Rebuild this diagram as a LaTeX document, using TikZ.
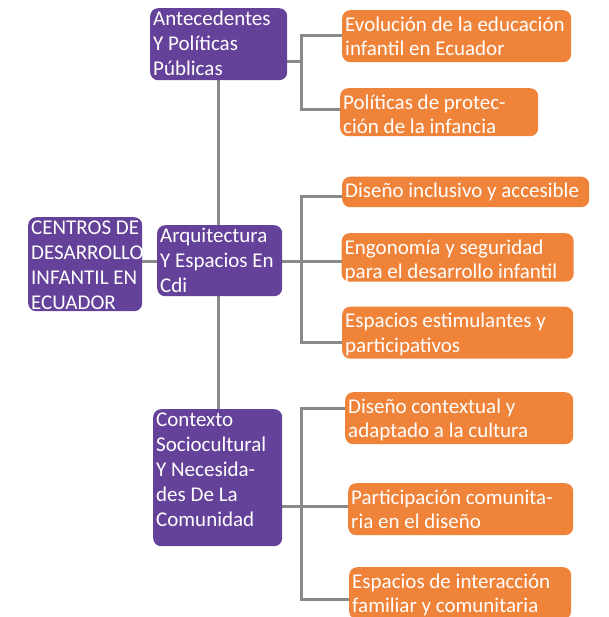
\documentclass[tikz,border=0pt]{standalone}
\usepackage{fontspec}
\setmainfont{Carlito}
\usetikzlibrary{backgrounds}
\definecolor{purp}{HTML}{64429A}
\definecolor{oran}{HTML}{F0833A}
\definecolor{conn}{HTML}{898989}
\newcommand\bx[6]{\node[#1] (#2) at (#3) {\parbox[t][#5pt][t]{#4pt}{\raggedright\rule{0pt}{\firstbl}#6}};}
\tikzset{
  basebox/.style={anchor=north west, inner xsep=3pt, inner ysep=0pt, rounded corners=8pt, text=white},
  pbox/.style={basebox, fill=purp, font=\fontsize{21}{25}\selectfont, execute at begin node={\def\firstbl{17.7pt}}},
  obox/.style={basebox, fill=oran, font=\fontsize{21}{24.5}\selectfont, execute at begin node={\def\firstbl{21pt}}},
  link/.style={draw=conn, line width=3pt}
}
\begin{document}
\begin{tikzpicture}[x=1pt,y=-1pt]
\useasboundingbox (0,0) rectangle (608,617);
% purple nodes
\bx{pbox}{R}{28,217}{108}{94}{CENTROS DE\\DESARROLLO\\INFANTIL EN\\ECUADOR}
\bx{pbox}{A1}{150,8}{131}{72}{Antecedentes\\Y Políticas\\Públicas}
\bx{pbox}{A2}{157,225}{119}{71}{Arquitectura\\Y Espacios En\\Cdi}
\bx{pbox}{A3}{153,409}{123}{137}{Contexto\\Sociocultural\\Y Necesida-\\des De La\\Comunidad}
% orange nodes
\bx{obox}{O1}{342,10}{223}{52}{Evolución de la educación\\infantil en Ecuador}
\bx{obox}{O2}{340,88}{192}{48}{Políticas de protec-\\ción de la infancia}
\bx{obox}{O3}{342,176.5}{241}{30.5}{Diseño inclusivo y accesible}
\bx{obox}{O4}{341.5,233}{226}{48.5}{Engonomía y seguridad\\para el desarrollo infantil}
\bx{obox}{O5}{342,306.5}{225}{52}{Espacios estimulantes y\\participativos}
\bx{obox}{O6}{345,392}{222}{52}{Diseño contextual y\\adaptado a la cultura}
\bx{obox}{O7}{348,483}{219}{52}{Participación comunita-\\ria en el diseño}
\bx{obox}{O8}{349,567}{216}{52}{Espacios de interacción\\familiar y comunitaria}
% junction coordinates
\coordinate (r) at (150,261);
\coordinate (t1) at (301,61.7);
\coordinate (c1) at (301,36);
\coordinate (c2) at (301,110);
\coordinate (t2) at (301,261);
\coordinate (c3) at (301,196.7);
\coordinate (c4) at (301,261);
\coordinate (c5) at (301,342.5);
\coordinate (t3) at (301,506.7);
\coordinate (c6) at (301,408.3);
\coordinate (c7) at (301,506.7);
\coordinate (c8) at (301,599.3);
% connectors behind the boxes
\begin{scope}[on background layer]
\draw[link] (A1.south) -- (A1.south |- A3.north);
\draw[link] (R.east |- r) -- (A2.west |- r);
\draw[link] (A1.east |- t1) -- (t1);
\draw[link] (O1.west |- c1) -- (c1) -- (c2) -- (O2.west |- c2);
\draw[link] (A2.east |- t2) -- (t2);
\draw[link] (O3.west |- c3) -- (c3) -- (c5) -- (O5.west |- c5);
\draw[link] (c4) -- (O4.west |- c4);
\draw[link] (A3.east |- t3) -- (t3);
\draw[link] (O6.west |- c6) -- (c6) -- (c8) -- (O8.west |- c8);
\draw[link] (c7) -- (O7.west |- c7);
\end{scope}
\end{tikzpicture}
\end{document}
